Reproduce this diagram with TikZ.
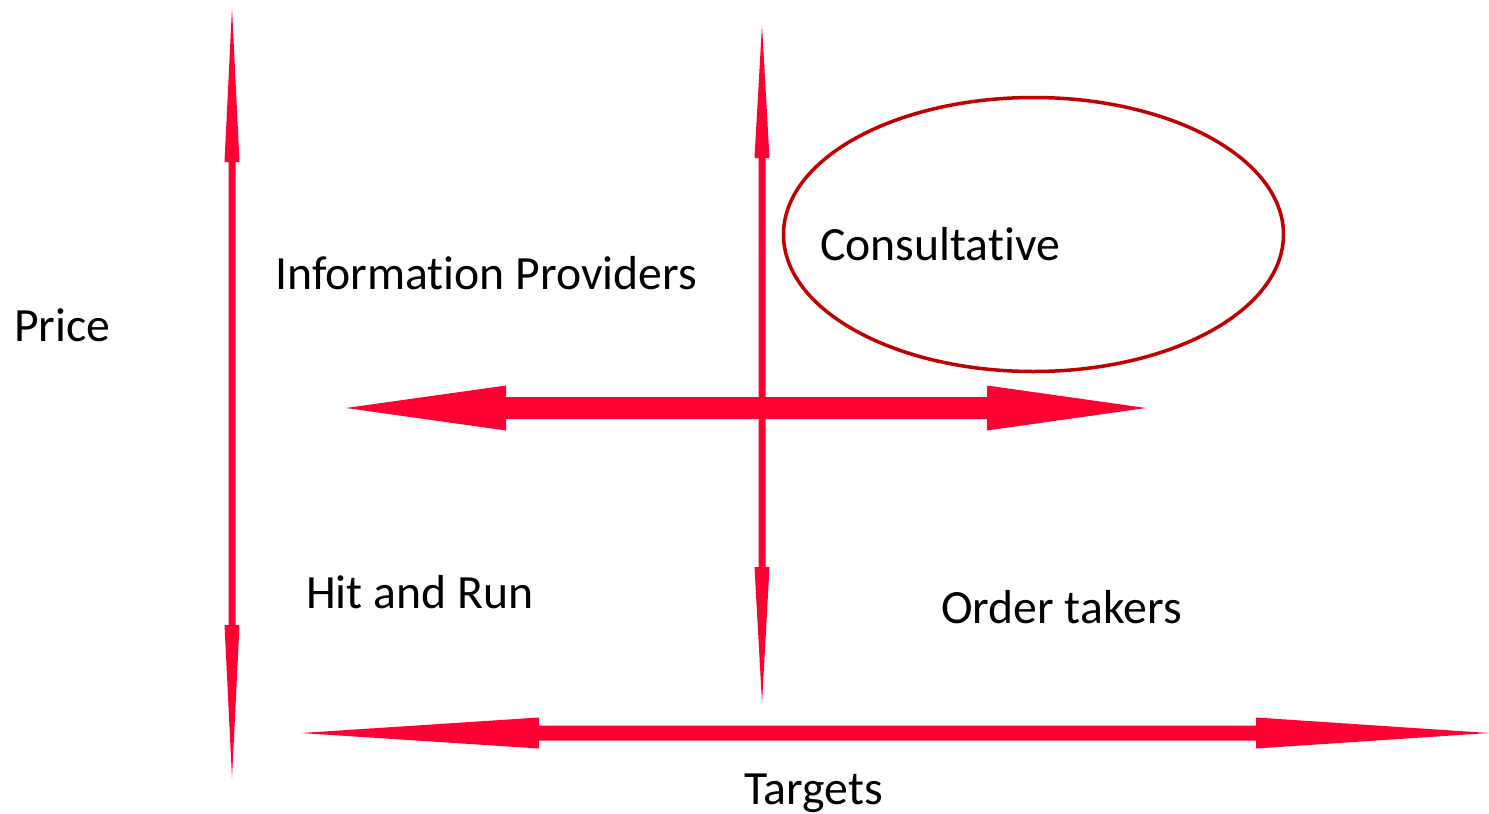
\documentclass[tikz,border=0pt]{standalone}
\usepackage{fontspec}
\setmainfont{Carlito}[RawFeature={-liga;-clig;-calt;-dlig}]
\definecolor{arr}{HTML}{FF0033}
\definecolor{ell}{HTML}{C00000}
\newcommand\myti{t\kern0pt i}
% vertical double arrow: x, ytop, ybottom, head length top, head length bottom, shaft half, head half
\newcommand\myvarrow[7]{%
  \fill[arr] (#1,#2) -- ({#1+#7},{#2+#4}) -- ({#1+#6},{#2+#4}) -- ({#1+#6},{#3-#5}) -- ({#1+#7},{#3-#5})
    -- (#1,#3) -- ({#1-#7},{#3-#5}) -- ({#1-#6},{#3-#5}) -- ({#1-#6},{#2+#4}) -- ({#1-#7},{#2+#4}) -- cycle;}
% horizontal double arrow: y, xleft, xright, head length left, head length right, shaft half, head half
\newcommand\myharrow[7]{%
  \fill[arr] (#2,#1) -- ({#2+#4},{#1-#7}) -- ({#2+#4},{#1-#6}) -- ({#3-#5},{#1-#6}) -- ({#3-#5},{#1-#7})
    -- (#3,#1) -- ({#3-#5},{#1+#7}) -- ({#3-#5},{#1+#6}) -- ({#2+#4},{#1+#6}) -- ({#2+#4},{#1+#7}) -- cycle;}
\begin{document}
\begin{tikzpicture}[x=1pt,y=-1pt,
  lbl/.style={anchor=base west,inner sep=0pt,font=\fontsize{47.7}{56}\selectfont}]
\useasboundingbox (0,0) rectangle (1489,814);
% arrows
\myvarrow{232}{8}{778}{154}{153}{3.5}{7.5}
\myvarrow{762}{25}{703}{133}{136}{3.5}{7.5}
\myharrow{408}{346}{1146}{160}{159}{11}{22.5}
\myharrow{733}{301}{1489}{238}{233}{7.5}{15.5}
% ellipse
\draw[ell,line width=3.5pt] (1033.5,234.5) ellipse[x radius=250pt,y radius=137pt];
% labels
\node[lbl] (price) at (14,341) {Price};
\node[lbl] (info) at (275,289) {Informa\myti on Providers};
\node[lbl] (cons) at (820,260) {Consulta\myti ve};
\node[lbl] (hit) at (306,608) {Hit and Run};
\node[lbl] (order) at (941,623) {Order takers};
\node[lbl] (targ) at (744,804) {Targets};
\end{tikzpicture}
\end{document}
